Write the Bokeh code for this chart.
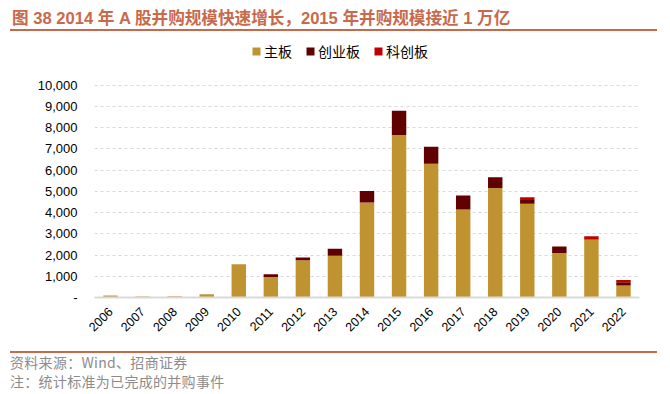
import math
from bokeh.plotting import figure
from bokeh.layouts import column
from bokeh.models import (FactorRange, Range1d, FixedTicker, NumeralTickFormatter,
                          Legend, LegendItem, ColumnDataSource, Div)
from bokeh.embed import file_html
from bokeh.resources import INLINE

years = [str(y) for y in range(2006, 2023)]
main_board = [100, 50, 60, 150, 1570, 970, 1750, 1970, 4470, 7650, 6300, 4140, 5160, 4420, 2100, 2730, 560]
gem = [0, 0, 0, 0, 0, 130, 130, 330, 540, 1150, 800, 660, 500, 170, 300, 20, 160]
star = [0, 0, 0, 0, 0, 0, 0, 0, 0, 0, 0, 0, 0, 130, 0, 140, 110]
series_names = ["主板", "创业板", "科创板"]
y_ticks = [0, 1000, 2000, 3000, 4000, 5000, 6000, 7000, 8000, 9000, 10000]

title_text = "图 38 2014 年 A 股并购规模快速增长，2015 年并购规模接近 1 万亿"
source_text = "资料来源：Wind、招商证券"
note_text = "注：统计标准为已完成的并购事件"

colors = ["#BF9430", "#600000", "#C00000"]
accent = "#C8694B"

W = 662

title_div = Div(
    text=(f'<div style="width:647px;height:23px;margin-left:10px;margin-top:8px;'
          f'border-bottom:2px solid {accent};'
          f'font-family:\'Liberation Sans\',\'Noto Sans CJK SC\',sans-serif;font-weight:bold;'
          f'font-size:16.6px;line-height:22px;color:{accent};white-space:nowrap;padding-left:2px;'
          f'box-sizing:border-box;">{title_text}</div>'),
    width=W, height=34, margin=0)

p = figure(width=W, height=312, output_backend="svg", toolbar_location=None,
           x_range=FactorRange(*years, range_padding=0),
           y_range=Range1d(0, 12197),
           min_border_left=94, min_border_right=23, min_border_top=4, min_border_bottom=49,
           outline_line_color=None, margin=0)

src = ColumnDataSource(dict(year=years, s0=main_board, s1=gem, s2=star))
renderers = p.vbar_stack(["s0", "s1", "s2"], x="year", width=0.45, source=src,
                         color=colors, line_color=None)

p.xgrid.visible = False
p.ygrid.grid_line_color = "#D9D9D9"
p.ygrid.grid_line_dash = "3 3"
p.ygrid.grid_line_width = 1

p.yaxis.ticker = FixedTicker(ticks=y_ticks)
p.yaxis.formatter = NumeralTickFormatter(format="0,0")
p.yaxis.major_label_overrides = {0: "-"}
p.yaxis.axis_line_color = None
p.yaxis.major_tick_line_color = None
p.yaxis.minor_tick_line_color = None
p.yaxis.major_label_text_font = "Liberation Sans"
p.yaxis.major_label_text_font_size = "13px"
p.yaxis.major_label_text_color = "#000000"
p.yaxis.major_label_standoff = 11

p.xaxis.axis_line_color = "#D9D9D9"
p.xaxis.axis_line_width = 2
p.xaxis.major_tick_line_color = None
p.xaxis.minor_tick_line_color = None
p.xaxis.major_label_orientation = math.pi / 4
p.xaxis.major_label_text_font = "Liberation Sans"
p.xaxis.major_label_text_font_size = "12.5px"
p.xaxis.major_label_text_color = "#000000"
p.xaxis.major_label_standoff = 6

legend = Legend(items=[LegendItem(label=n, renderers=[r]) for n, r in zip(series_names, renderers)],
                orientation="horizontal", location=(157, 236),
                glyph_width=10, glyph_height=10, spacing=13, label_standoff=3,
                padding=0, margin=0, border_line_color=None, background_fill_alpha=0,
                label_text_font="Noto Sans CJK SC", label_text_font_size="14px",
                label_text_color="#000000", label_height=16)
p.add_layout(legend, "center")

foot_div = Div(
    text=(f'<div style="width:647px;margin-left:10px;margin-top:5px;border-top:2px solid {accent};'
          f'font-family:\'Noto Sans CJK SC\',sans-serif;font-size:14px;line-height:19px;'
          f'letter-spacing:0.3px;color:#8C8C8C;">{source_text}<br>{note_text}</div>'),
    width=W, height=40, margin=0)

layout = column(title_div, p, foot_div, spacing=0)
open("out.html", "w").write(file_html(layout, INLINE))
